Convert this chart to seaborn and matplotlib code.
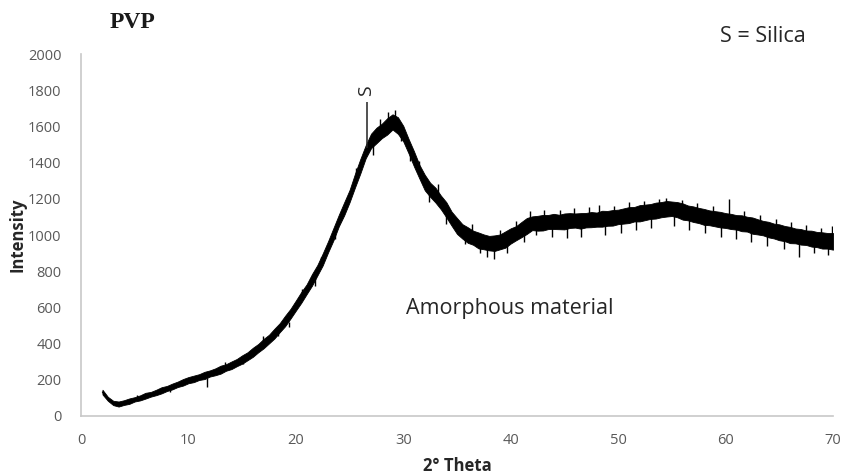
import numpy as np
import pandas as pd
import matplotlib
matplotlib.use("Agg")
import matplotlib.pyplot as plt
import seaborn as sns

# 2-theta grid of the XRD scan (degrees), 0.5 degree steps
theta = np.arange(2.0, 70.5, 0.5)

# mid-line of the noisy diffraction trace (counts)
intensity = [
    132, 95, 72, 66, 74, 82, 92, 100, 112, 120, 130, 142, 152, 163, 175, 186, 198,
    205, 215, 224, 235, 244, 256, 268, 280, 295, 312, 330, 352, 375, 400, 425, 455, 488, 525, 565, 610,
    655, 700, 752, 805, 865, 935, 1005, 1080, 1145, 1215, 1300, 1380, 1460, 1520, 1550, 1575, 1600, 1625, 1605, 1560,
    1490, 1420, 1350, 1290, 1250, 1220, 1180, 1140, 1090, 1050, 1020, 1000, 985, 970, 962, 955, 955, 962, 975, 995,
    1010, 1030, 1050, 1065, 1065, 1068, 1072, 1075, 1072, 1075, 1080, 1080, 1078, 1082, 1085, 1085, 1090, 1092, 1095, 1100,
    1105, 1110, 1115, 1120, 1125, 1130, 1135, 1140, 1145, 1145, 1140, 1130, 1122, 1115, 1108, 1100, 1095, 1090, 1085, 1080,
    1075, 1070, 1065, 1060, 1052, 1045, 1038, 1030, 1022, 1015, 1008, 1000, 995, 990, 985, 980, 975, 970, 968, 965,
]

# half-width of the dense noise band around the mid-line (counts)
noise = [
    13, 11, 12, 14, 13, 15, 12, 14, 16, 13, 15, 17, 14, 16, 15, 18, 17,
    18, 16, 20, 17, 19, 22, 18, 21, 20, 23, 22, 25, 23, 26, 24, 27, 25, 29, 27, 28,
    30, 27, 32, 29, 33, 31, 34, 32, 36, 34, 38, 40, 36, 40, 43, 40, 45, 42, 46, 43,
    40, 42, 38, 43, 39, 41, 38, 42, 39, 44, 40, 43, 39, 44, 41, 40, 43, 41, 45, 42,
    39, 42, 44, 38, 41, 43, 39, 42, 40, 44, 41, 39, 43, 40, 42, 39, 44, 41, 43, 40,
    42, 44, 40, 45, 43, 41, 44, 42, 43, 40, 42, 45, 41, 43, 42, 44, 41, 42, 43, 41,
    42, 40, 44, 41, 45, 42, 40, 43, 41, 44, 42, 45, 41, 43, 40, 44, 42, 45, 43, 46,
]

# one-sided noise spikes sticking out of the band: position, lower and upper count
spike_theta = [
    5.2, 8.3, 11.7, 13.4, 15.1, 16.9, 18.3, 19.4,
    20.6, 21.8, 22.3, 23.6, 25.6, 27.2, 27.8, 28.6, 29.2, 29.8, 30.6, 31.5, 32.4, 33.2, 34.0,
    35.7, 36.4, 37.1, 37.8, 38.4, 39.0, 39.7, 40.5, 41.2, 41.8, 42.4, 43.1, 43.8, 44.6, 45.2,
    45.9, 46.5, 47.3, 48.2, 48.8, 49.6, 50.3, 51.0, 51.7, 52.4, 53.1, 53.8, 54.5, 55.2, 55.9,
    56.6, 57.3, 58.1, 58.8, 59.6, 60.3, 61.0, 61.7, 62.4, 63.2, 63.9, 64.7, 65.4, 66.1, 66.8,
    67.5, 68.2, 68.9, 69.5, 69.9,
]
spike_low = [
    90, 135, 160, 260, 290, 385, 440, 490,
    650, 720, 830, 980, 1300, 1440, 1570, 1600, 1620, 1520, 1410, 1350, 1180, 1210, 1060,
    950, 990, 900, 880, 870, 960, 900, 1005, 960, 1060, 1000, 1070, 990, 1075, 985,
    1080, 990, 1080, 1085, 1000, 1095, 1010, 1110, 1030, 1120, 1040, 1135, 1140, 1050, 1130,
    1030, 1110, 1010, 1095, 990, 1080, 980, 1065, 960, 1040, 940, 1020, 920, 1000, 880,
    985, 900, 970, 890, 965,
]
spike_high = [
    118, 158, 210, 300, 315, 440, 478, 520,
    700, 780, 880, 1040, 1370, 1510, 1640, 1680, 1690, 1580, 1480, 1410, 1250, 1280, 1140,
    1010, 1060, 970, 955, 955, 1030, 975, 1080, 1030, 1135, 1070, 1140, 1070, 1140, 1075,
    1150, 1080, 1155, 1165, 1085, 1160, 1100, 1180, 1115, 1190, 1130, 1200, 1205, 1145, 1195,
    1120, 1175, 1100, 1160, 1085, 1197, 1070, 1130, 1055, 1110, 1035, 1090, 1010, 1070, 990,
    1055, 980, 1040, 970, 1050,
]

# sharp silica reflection
silica_theta = 26.6
silica_low = 1480
silica_high = 1736

x_ticks = [0, 10, 20, 30, 40, 50, 60, 70]
y_ticks = [0, 200, 400, 600, 800, 1000, 1200, 1400, 1600, 1800, 2000]

sns.set_theme(style="white")
plt.rcParams["font.family"] = ["Open Sans", "DejaVu Sans"]

lo = np.array(intensity) - np.array(noise)
hi = np.array(intensity) + np.array(noise)
df = pd.DataFrame({
    "theta": np.concatenate([theta, theta]),
    "counts": np.concatenate([lo, hi]),
})

fig = plt.figure(figsize=(8.41, 4.74), dpi=100)
ax = fig.add_axes([0.0963, 0.1224, 0.8942, 0.7636])

sns.lineplot(data=df, x="theta", y="counts", ax=ax, color="black",
             estimator="mean", errorbar=("pi", 100), linewidth=1.0,
             err_kws={"alpha": 1.0, "linewidth": 0.6, "edgecolor": "black"})

ax.vlines(spike_theta, spike_low, spike_high, color="black", linewidth=1.0)
ax.vlines([silica_theta], [silica_low], [silica_high], color="#222222", linewidth=1.1)

ax.set_xlim(0, 70)
ax.set_ylim(0, 2000)
ax.set_xticks(x_ticks)
ax.set_yticks(y_ticks)
ax.tick_params(axis="both", length=0, labelsize=10.5, labelcolor="#595959")
ax.tick_params(axis="y", pad=14)
ax.tick_params(axis="x", pad=12)

for side in ["top", "right"]:
    ax.spines[side].set_visible(False)
for side in ["left", "bottom"]:
    ax.spines[side].set_color("#c8c8c8")
    ax.spines[side].set_linewidth(1.2)

ax.set_xlabel("2° Theta", fontsize=12, fontweight="bold", color="#262626")
ax.set_ylabel("Intensity", fontsize=12, fontweight="bold", color="#262626")
ax.xaxis.set_label_coords(0.5, -0.112)
ax.yaxis.set_label_coords(-0.072, 0.5)
ax.grid(False)

fig.text(110 / 841, 1 - 22 / 474, "PVP", fontsize=17, fontweight="bold",
         family="Liberation Serif", color="#1a1a1a", va="center", ha="left")
fig.text(763 / 841, 1 - 37 / 474, "S = Silica", fontsize=15.5, color="#262626",
         va="center", ha="center")
ax.text(silica_theta - 0.1, 1795, "S", fontsize=14, rotation=90, color="#262626",
        va="center", ha="center")
ax.text(39.9, 593, "Amorphous material", fontsize=15.5, color="#262626",
        va="center", ha="center")

fig.savefig("out.png", dpi=100, facecolor="white")
